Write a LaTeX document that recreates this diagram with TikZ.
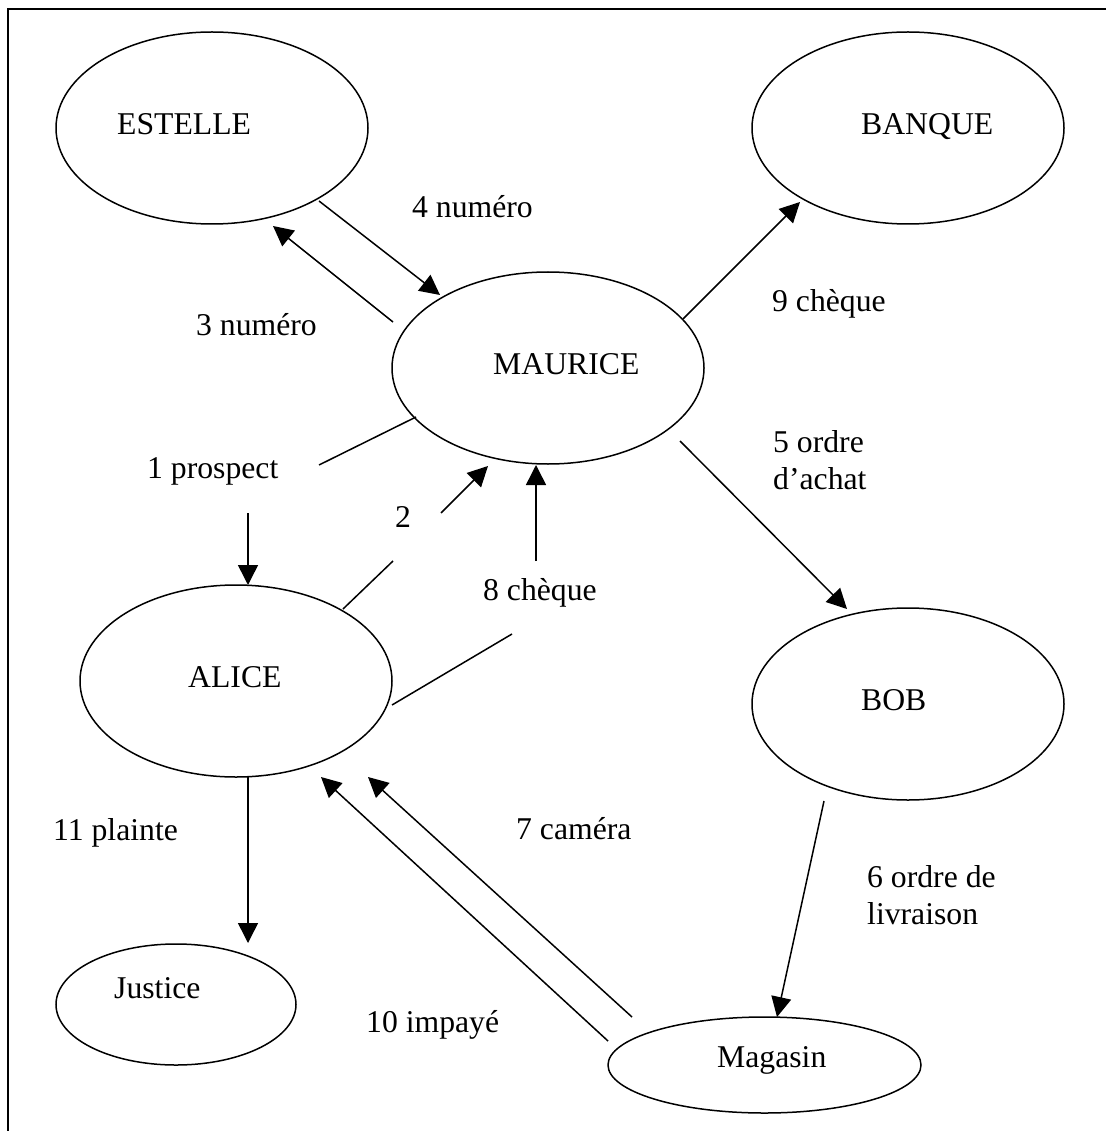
\documentclass[tikz,border=0pt]{standalone}
\usepackage{fontspec}
\setmainfont{Liberation Serif}
\usetikzlibrary{shapes.geometric,arrows.meta}
\begin{document}
\begin{tikzpicture}[x=1pt,y=-1pt,
  actor/.style={draw,ellipse,line width=1.5pt,inner sep=0pt},
  actortext/.style={anchor=base west,inner sep=0pt},
  lbl/.style={anchor=base west,inner sep=0pt,align=left},
  link/.style={line width=1.5pt},
  flow/.style={line width=1.5pt,-{Triangle[length=20pt,width=20pt]}},
  every node/.append style={font=\fontsize{31.7}{37}\selectfont}]
\useasboundingbox (0,0) rectangle (1106,1131);

% frame (top and left edges)
\draw[line width=2.4pt] (1106,9) -- (8,9) -- (8,1131);

% actors
\node[actor,minimum width=312pt,minimum height=192pt] (estelle) at (212,128) {};
\node[actor,minimum width=312pt,minimum height=192pt] (banque)  at (908,128) {};
\node[actor,minimum width=312pt,minimum height=192pt] (maurice) at (548,368) {};
\node[actor,minimum width=312pt,minimum height=192pt] (alice)   at (236,681) {};
\node[actor,minimum width=312pt,minimum height=192pt] (bob)     at (908,704) {};
\node[actor,minimum width=240pt,minimum height=121pt] (justice) at (176,1004.5) {};
\node[actor,minimum width=313pt,minimum height=96pt]  (magasin) at (764.5,1065) {};

\node[actortext] (tEstelle) at (117,135)  {ESTELLE};
\node[actortext] (tBanque)  at (861,135)  {BANQUE};
\node[actortext] (tMaurice) at (493,374)  {MAURICE};
\node[actortext] (tAlice)   at (188,687)  {ALICE};
\node[actortext] (tBob)     at (861,710)  {BOB};
\node[actortext] (tJustice) at (114,998)  {Justice};
\node[actortext] (tMagasin) at (717,1067) {Magasin};

% flow labels
\node[lbl] (l3)  at (196,335)  {3 numéro};
\node[lbl] (l4)  at (412,218)  {4 numéro};
\node[lbl] (l9)  at (772,312)  {9 chèque};
\node[lbl] (l1)  at (147,478)  {1 prospect};
\node[lbl] (l2)  at (395,527)  {2};
\node[lbl] (l8)  at (483,600)  {8 chèque};
\node[lbl] (l5a) at (773,452)  {5 ordre};
\node[lbl] (l5b) at (773,489)  {d’achat};
\node[lbl] (l6a) at (867,887)  {6 ordre de};
\node[lbl] (l6b) at (867,924)  {livraison};
\node[lbl] (l11) at (53,840)   {11 plainte};
\node[lbl] (l7)  at (516,839)  {7 caméra};
\node[lbl] (l10) at (366,1032) {10 impayé};

% connector end points
\coordinate (eS4) at (319,201);  \coordinate (mE4) at (440,295);
\coordinate (mS3) at (393,322);  \coordinate (eE3) at (273,226);
\coordinate (mS9) at (683,319);  \coordinate (bE9) at (800,202);
\coordinate (mS5) at (680,441);  \coordinate (bE5) at (847,609);
\coordinate (bS6) at (824,801);  \coordinate (gE6) at (777,1017);
\coordinate (gS10) at (608,1041); \coordinate (aE10) at (321,777);
\coordinate (gS7) at (632,1017); \coordinate (aE7) at (368,777);
\coordinate (aS11) at (248,777); \coordinate (jE11) at (248,943);
\coordinate (mS1) at (416,417);  \coordinate (p1a) at (319,465);
\coordinate (p1b) at (248,513);  \coordinate (aE1) at (248,585);
\coordinate (aS2) at (343,609);  \coordinate (p2a) at (393,561);
\coordinate (p2b) at (441,513);  \coordinate (mE2) at (488,466);
\coordinate (aS8) at (392,705);  \coordinate (p8a) at (512,634);
\coordinate (p8b) at (536,561);  \coordinate (mE8) at (536,465);

% flows
\draw[flow] (eS4) -- (mE4);
\draw[flow] (mS3) -- (eE3);
\draw[flow] (mS9) -- (bE9);
\draw[flow] (mS5) -- (bE5);
\draw[flow] (bS6) -- (gE6);
\draw[flow] (gS10) -- (aE10);
\draw[flow] (gS7) -- (aE7);
\draw[flow] (aS11) -- (jE11);
\draw[link] (mS1) -- (p1a);
\draw[flow] (p1b) -- (aE1);
\draw[link] (aS2) -- (p2a);
\draw[flow] (p2b) -- (mE2);
\draw[link] (aS8) -- (p8a);
\draw[flow] (p8b) -- (mE8);
\end{tikzpicture}
\end{document}
